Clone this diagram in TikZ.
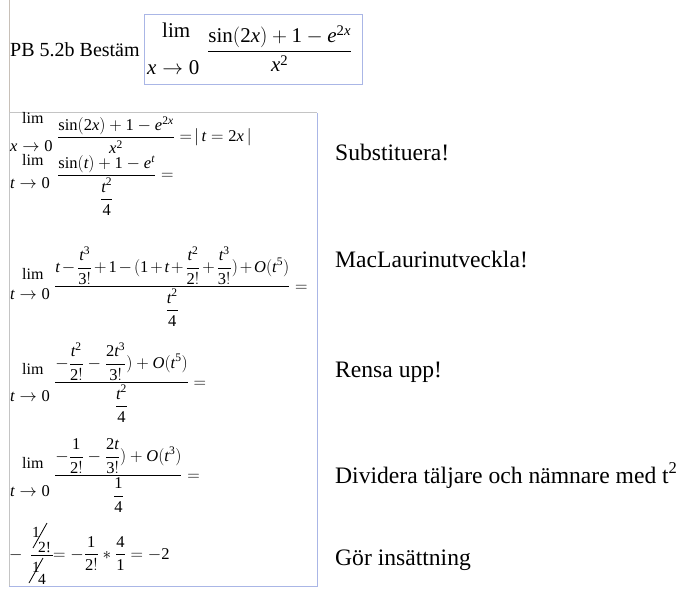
\documentclass[tikz,border=0pt]{standalone}
\usepackage{amsmath}
\usepackage{mathspec}
\setmainfont{Liberation Serif}
\setmathsfont(Digits,Latin){Liberation Serif}
\setmathrm{Liberation Serif}
\definecolor{boxblue}{RGB}{170,182,230}
\definecolor{boxgray}{RGB}{196,196,196}
\definecolor{linegray}{RGB}{200,192,184}
\tikzset{
  mth/.style={inner sep=0pt, anchor=base west, font=\fontsize{16.5}{19}\selectfont},
  limt/.style={inner sep=0pt, anchor=base west, font=\fontsize{16}{19}\selectfont},
  topm/.style={inner sep=0pt, anchor=base west, font=\fontsize{21}{24}\selectfont},
  note/.style={inner sep=0pt, anchor=base west, font=\fontsize{23.6}{27}\selectfont},
  glyph/.style={inner sep=0pt, anchor=base west, font=\fontsize{15.5}{18}\selectfont},
  slash/.style={line width=0.8pt, black},
}
\begin{document}
\begin{tikzpicture}[x=1pt,y=-1pt]
\useasboundingbox (0,0) rectangle (684,593);
% frames
\draw[linegray, line width=1pt] (9,0) -- (9,113);
\draw[boxgray, line width=1pt] (9,586) -- (9,113) -- (317,113);
\draw[boxblue, line width=1pt] (317,113) -- (317,586) -- (9,586);
\draw[boxblue, line width=1pt] (144,15) rectangle (362,85);
% title
\node[inner sep=0pt, anchor=base west, font=\fontsize{20}{23}\selectfont] (pb) at (10,57) {PB 5.2b Bestäm};
\node[topm] (toplim) at (162,38) {lim};
\node[topm] (topx) at (147,75) {$x\to 0$};
\node[topm] (topfrac) at (207,57) {$\dfrac{\sin(2x)+1-e^{2x}}{x^2}$};
% row 1
\node[limt] (lim1) at (22,124) {lim};
\node[mth] (sub1) at (10,152) {$x\to 0$};
\node[mth] (frac1) at (57,142) {$\dfrac{\sin(2x)+1-e^{2x}}{x^2}=\!|\,t=2x\,|$};
% row 2
\node[limt] (lim2) at (22,166) {lim};
\node[mth] (sub2) at (10,189) {$t\to 0$};
\node[mth] (frac2) at (57,180) {$\dfrac{\sin(t)+1-e^{t}}{\dfrac{t^2}{4}}=$};
% row 3
\node[limt] (lim3) at (22,279) {lim};
\node[mth] (sub3) at (10,299) {$t\to 0$};
\node[mth] (frac3) at (54,291) {$\medmuskip=2mu\dfrac{t-\dfrac{t^3}{3!}+1-(1+t+\dfrac{t^2}{2!}+\dfrac{t^3}{3!})+O(t^5)}{\dfrac{t^2}{4}}=$};
% row 4
\node[limt] (lim4) at (22,374) {lim};
\node[mth] (sub4) at (10,401) {$t\to 0$};
\node[mth] (frac4) at (54,387) {$\dfrac{-\dfrac{t^2}{2!}-\dfrac{2t^3}{3!})+O(t^5)}{\dfrac{t^2}{4}}=$};
% row 5
\node[limt] (lim5) at (22,468) {lim};
\node[mth] (sub5) at (10,496) {$t\to 0$};
\node[mth] (frac5) at (54,480) {$\dfrac{-\dfrac{1}{2!}-\dfrac{2t}{3!})+O(t^3)}{\dfrac{1}{4}}=$};
% row 6
\node[mth] (minus6) at (9,559) {$-$};
\draw[line width=0.7pt] (31,555) -- (53,555);
\node[glyph] (num1) at (32,537) {1};
\node[glyph] (num2) at (38,552) {2!};
\draw[slash] (33,548) -- (47,523);
\node[glyph] (den1) at (32,572) {1};
\node[glyph] (den2) at (38,584) {4};
\draw[slash] (29,583) -- (43,558);
\node[mth] (res) at (53,559) {$=-\dfrac{1}{2!}*\dfrac{4}{1}=-2$};
% notes
\node[note] (n1) at (335,161) {Substituera!};
\node[note] (n2) at (335,267) {MacLaurinutveckla!};
\node[note] (n3) at (335,377) {Rensa upp!};
\node[note] (n4) at (335,483) {Dividera täljare och nämnare med t\textsuperscript{2}};
\node[note] (n5) at (335,565) {Gör insättning};
\end{tikzpicture}
\end{document}
